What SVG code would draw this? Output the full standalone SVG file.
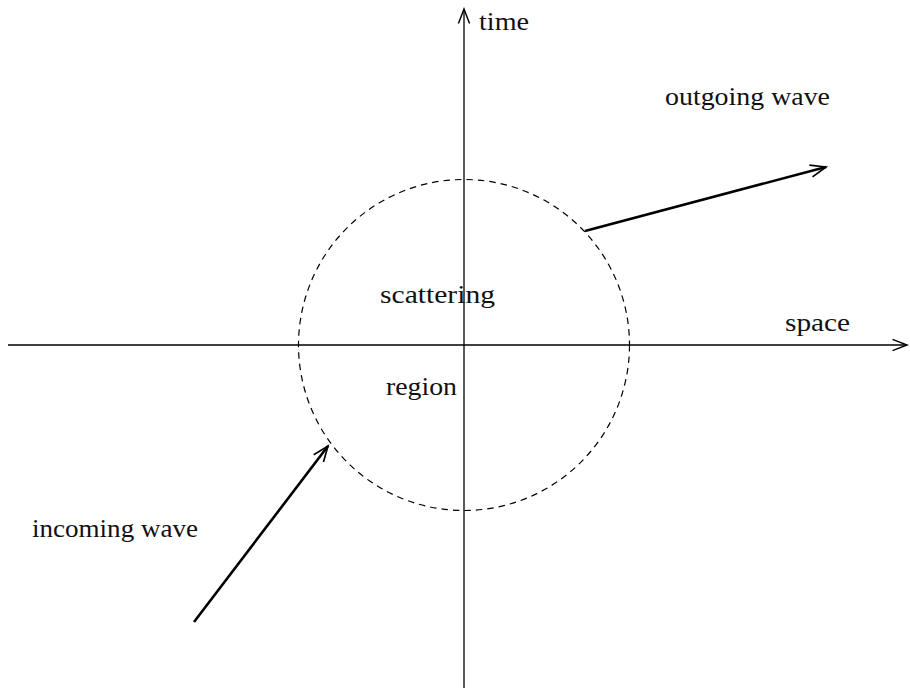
<svg xmlns="http://www.w3.org/2000/svg" width="910" height="690" viewBox="0 0 910 690">
<style>
.lbl{font-family:"Liberation Serif","DejaVu Serif",serif;font-size:25px;fill:#111}
.axis{stroke:#000;stroke-width:1.3;fill:none}
.wave{stroke:#000;stroke-width:2.6;fill:none}
</style>
<defs>
<marker id="ah" markerUnits="userSpaceOnUse" markerWidth="20" markerHeight="20" refX="0" refY="0" viewBox="-16 -8 18 16" orient="auto">
<path d="M -13 -5 L 0 0 L -13 5" fill="none" stroke="#000" stroke-width="1.3"/>
</marker>
<marker id="ahw" markerUnits="userSpaceOnUse" markerWidth="20" markerHeight="20" refX="0" refY="0" viewBox="-16 -8 18 16" orient="auto">
<path d="M -14 -5.5 L 0 0 L -14 5.5" fill="none" stroke="#000" stroke-width="1.5"/>
</marker>
</defs>
<g id="connectors">
<line class="axis" x1="464" y1="688" x2="464" y2="9" marker-end="url(#ah)"/>
<line class="axis" x1="8" y1="345" x2="907" y2="345" marker-end="url(#ah)"/>
<line class="wave" x1="585" y1="231" x2="826" y2="167" marker-end="url(#ahw)"/>
<line class="wave" x1="194" y1="622" x2="328" y2="446" marker-end="url(#ahw)"/>
</g>
<g id="region">
<circle cx="464" cy="345" r="165.5" fill="none" stroke="#000" stroke-width="1.2" stroke-dasharray="6.5 5"/>
<text class="lbl" x="380" y="303" textLength="115" lengthAdjust="spacingAndGlyphs">scattering</text>
<text class="lbl" x="386" y="395" textLength="71" lengthAdjust="spacingAndGlyphs">region</text>
</g>
<g id="labels">
<text class="lbl" x="479" y="30" textLength="50" lengthAdjust="spacingAndGlyphs">time</text>
<text class="lbl" x="785" y="331" textLength="65" lengthAdjust="spacingAndGlyphs">space</text>
<text class="lbl" x="665" y="105" textLength="165" lengthAdjust="spacingAndGlyphs">outgoing wave</text>
<text class="lbl" x="32" y="537" textLength="166" lengthAdjust="spacingAndGlyphs">incoming wave</text>
</g>
</svg>
